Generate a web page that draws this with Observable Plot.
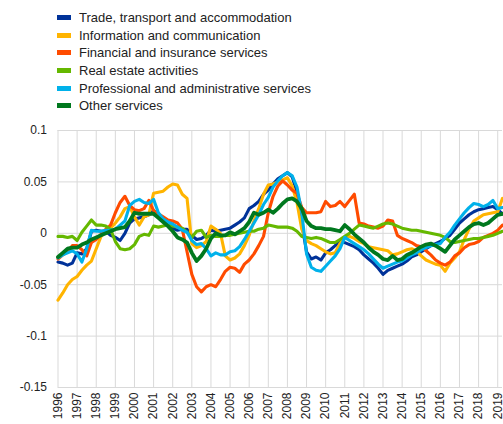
<!DOCTYPE html>
<html>
<head>
<meta charset="utf-8">
<script src="https://cdn.jsdelivr.net/npm/d3@7"></script>
<script src="https://cdn.jsdelivr.net/npm/@observablehq/plot@0.6"></script>
<style>
  html, body { margin: 0; padding: 0; background: #fff; }
  body { width: 503px; height: 424px; overflow: hidden; font-family: "Liberation Sans", Arial, sans-serif; }
  #legend { position: relative; height: 115px; }
  .item { position: absolute; left: 57px; height: 18px; display: flex; align-items: center; font-size: 13px; color: #222; white-space: nowrap; }
  .sw { width: 14px; height: 5px; margin-right: 8px; }
  #chart svg { display: block; }
</style>
</head>
<body>
<div id="legend"></div>
<div id="chart"></div>
<script>
const seriesNames = [
  "Trade, transport and accommodation",
  "Information and communication",
  "Financial and insurance services",
  "Real estate activities",
  "Professional and administrative services",
  "Other services"
];
const seriesColors = ["#003299", "#FFB400", "#FF4B00", "#65B800", "#00B1EA", "#00781E"];

const startYear = 1996; // quarterly observations, 1996 Q1 onwards
const yearTicks = [1996,1997,1998,1999,2000,2001,2002,2003,2004,2005,2006,2007,2008,2009,2010,2011,2012,2013,2014,2015,2016,2017,2018,2019];
const valueTicks = [0.1, 0.05, 0, -0.05, -0.1, -0.15];

const trade = [
  -0.028,-0.029,-0.031,-0.029, -0.019,-0.020,-0.015,0.002, 0.003,0.002,0.002,-0.002,
  -0.004,-0.007,0.000,0.010, 0.014,0.015,0.016,0.018, 0.022,0.018,0.012,0.008,
  0.005,0.003,0.004,0.004, -0.002,-0.006,-0.005,-0.002, 0.003,0.002,0.003,0.004,
  0.005,0.008,0.011,0.015, 0.024,0.027,0.031,0.038, 0.042,0.048,0.053,0.056,
  0.059,0.055,0.040,0.010, -0.018,-0.025,-0.023,-0.026, -0.019,-0.016,-0.012,-0.007,
  -0.009,-0.011,-0.013,-0.016, -0.021,-0.025,-0.029,-0.034, -0.040,-0.036,-0.034,-0.032,
  -0.030,-0.027,-0.023,-0.021, -0.018,-0.015,-0.012,-0.010, -0.008,-0.005,-0.002,0.004,
  0.010,0.014,0.018,0.021, 0.023,0.024,0.025,0.026, 0.023,0.019
];
const infoComm = [
  -0.065,-0.058,-0.050,-0.045, -0.042,-0.036,-0.031,-0.027, -0.015,-0.003,0.002,0.005,
  0.010,0.016,0.024,0.026, 0.016,0.008,0.016,0.018, 0.039,0.040,0.041,0.045,
  0.048,0.047,0.038,0.034, -0.010,-0.014,-0.012,-0.008, 0.007,0.004,0.000,-0.022,
  -0.026,-0.024,-0.020,-0.012, -0.002,0.012,0.024,0.038, 0.047,0.048,0.050,0.052,
  0.054,0.046,0.030,0.004, -0.007,-0.010,-0.012,-0.015, -0.018,-0.020,-0.019,-0.010,
  -0.004,-0.003,-0.005,-0.008, -0.010,-0.013,-0.014,-0.015, -0.016,-0.017,-0.021,-0.020,
  -0.018,-0.016,-0.015,-0.017, -0.022,-0.026,-0.028,-0.030, -0.031,-0.037,-0.029,-0.024,
  -0.018,-0.006,0.004,0.012, 0.015,0.018,0.019,0.020, 0.021,0.034
];
const financial = [
  -0.025,-0.021,-0.018,-0.012, -0.012,-0.016,-0.022,-0.009, -0.006,-0.001,0.004,0.008,
  0.020,0.030,0.036,0.027, 0.023,0.022,0.024,0.032, 0.022,0.019,0.016,0.013,
  0.012,0.010,0.004,-0.018, -0.040,-0.052,-0.057,-0.052, -0.050,-0.052,-0.045,-0.037,
  -0.033,-0.034,-0.038,-0.030, -0.026,-0.020,-0.012,-0.003, 0.020,0.036,0.046,0.051,
  0.047,0.042,0.039,0.025, 0.020,0.020,0.020,0.021, 0.031,0.026,0.027,0.031,
  0.026,0.032,0.038,0.010, 0.009,0.007,0.006,0.005, 0.007,0.013,0.012,-0.002,
  -0.005,-0.007,-0.009,-0.012, -0.013,-0.017,-0.021,-0.026, -0.029,-0.031,-0.028,-0.022,
  -0.019,-0.014,-0.011,-0.010, -0.008,-0.004,-0.002,0.000, 0.003,0.008
];
const realEstate = [
  -0.003,-0.003,-0.004,-0.003, -0.007,0.001,0.007,0.013, 0.008,0.008,0.007,0.004,
  -0.008,-0.015,-0.016,-0.015, -0.011,-0.003,-0.001,-0.002, 0.007,0.006,0.007,0.008,
  0.007,0.006,0.005,0.001, -0.004,0.002,0.003,-0.004, -0.002,-0.003,-0.003,-0.002,
  -0.002,-0.001,0.000,0.001, 0.002,0.002,0.004,0.005, 0.008,0.007,0.006,0.006,
  0.006,0.005,0.002,-0.003, -0.004,-0.005,-0.004,-0.005, -0.007,-0.009,-0.009,-0.006,
  -0.003,0.000,0.004,0.008, 0.007,0.006,0.005,0.007, 0.009,0.010,0.009,0.007,
  0.005,0.004,0.003,0.003, 0.002,0.001,0.000,-0.001, -0.002,-0.004,-0.008,-0.009,
  -0.008,-0.007,-0.006,-0.005, -0.005,-0.004,-0.003,-0.002, 0.000,0.002
];
const professional = [
  -0.024,-0.021,-0.019,-0.017, -0.020,-0.028,-0.015,0.003, 0.002,0.002,0.003,0.003,
  0.004,0.008,0.012,0.027, 0.031,0.033,0.030,0.029, 0.033,0.020,0.014,0.011,
  0.009,0.006,0.003,0.001, -0.007,-0.011,-0.010,-0.015, -0.022,-0.019,-0.021,-0.021,
  -0.018,-0.017,-0.013,-0.006, 0.002,0.010,0.018,0.028, 0.035,0.045,0.051,0.056,
  0.059,0.056,0.045,0.020, -0.020,-0.033,-0.036,-0.037, -0.032,-0.027,-0.022,-0.015,
  -0.004,-0.007,-0.010,-0.013, -0.016,-0.020,-0.025,-0.030, -0.034,-0.032,-0.030,-0.028,
  -0.027,-0.024,-0.021,-0.019, -0.016,-0.014,-0.012,-0.011, -0.010,-0.004,0.001,0.008,
  0.014,0.020,0.025,0.029, 0.028,0.026,0.028,0.032, 0.024,0.025
];
const otherServices = [
  -0.023,-0.019,-0.015,-0.014, -0.014,-0.011,-0.009,-0.006, -0.004,-0.002,0.000,0.002,
  0.004,0.005,0.006,0.012, 0.020,0.019,0.019,0.019, 0.019,0.015,0.011,0.007,
  0.002,-0.004,-0.006,-0.009, -0.019,-0.027,-0.022,-0.015, -0.005,0.000,-0.002,-0.002,
  0.001,-0.001,0.002,0.005, 0.011,0.020,0.018,0.020, 0.023,0.020,0.024,0.029,
  0.033,0.034,0.031,0.024, 0.012,0.007,0.005,0.005, 0.004,0.004,0.003,0.002,
  0.008,0.004,-0.001,-0.005, -0.009,-0.014,-0.018,-0.021, -0.025,-0.026,-0.022,-0.026,
  -0.025,-0.021,-0.019,-0.016, -0.013,-0.011,-0.010,-0.012, -0.015,-0.018,-0.012,-0.006,
  -0.002,0.002,0.006,0.009, 0.010,0.008,0.010,0.014, 0.018,0.019
];

const allSeries = [trade, infoComm, financial, realEstate, professional, otherServices];

// Legend
const legend = document.getElementById("legend");
const rowTops = [8, 26, 43, 61, 79, 96];
seriesNames.forEach((name, i) => {
  const item = document.createElement("div");
  item.className = "item";
  item.style.top = rowTops[i] + "px";
  const sw = document.createElement("span");
  sw.className = "sw";
  sw.style.background = seriesColors[i];
  const label = document.createElement("span");
  label.textContent = name;
  item.appendChild(sw);
  item.appendChild(label);
  legend.appendChild(item);
});

// Data table
const rows = [];
allSeries.forEach((vals, s) => {
  vals.forEach((v, i) => rows.push({series: seriesNames[s], date: startYear + i / 4, value: v}));
});

const lineMarks = seriesNames.map((name, s) =>
  Plot.line(rows.filter(d => d.series === name), {
    x: "date", y: "value",
    stroke: seriesColors[s],
    strokeWidth: s === 5 ? 3.8 : 3.1,
    strokeLinejoin: "round",
    strokeLinecap: "round"
  })
);

const chart = Plot.plot({
  width: 503,
  height: 309,
  marginTop: 15,
  marginBottom: 37,
  marginLeft: 57.5,
  marginRight: 1,
  style: {fontFamily: "'Liberation Sans', Arial, sans-serif", fontSize: "12px", color: "#222", background: "#fff"},
  x: {domain: [1996, 2019.25], label: null},
  y: {domain: [-0.15, 0.1], label: null},
  marks: [
    Plot.gridX(yearTicks, {stroke: "#d9d9d9", strokeOpacity: 1, strokeWidth: 1}),
    Plot.gridY(valueTicks, {stroke: "#d9d9d9", strokeOpacity: 1, strokeWidth: 1}),
    Plot.axisY(valueTicks, {tickSize: 0, tickPadding: 11, tickFormat: d => String(d), fontSize: 12, fill: "#222", label: null}),
    Plot.axisX(yearTicks, {tickSize: 0, tickPadding: 5, tickRotate: -90, tickFormat: d => String(d), fontSize: 12, fill: "#222", label: null}),
    ...lineMarks
  ]
});
document.getElementById("chart").appendChild(chart);
</script>
</body>
</html>
